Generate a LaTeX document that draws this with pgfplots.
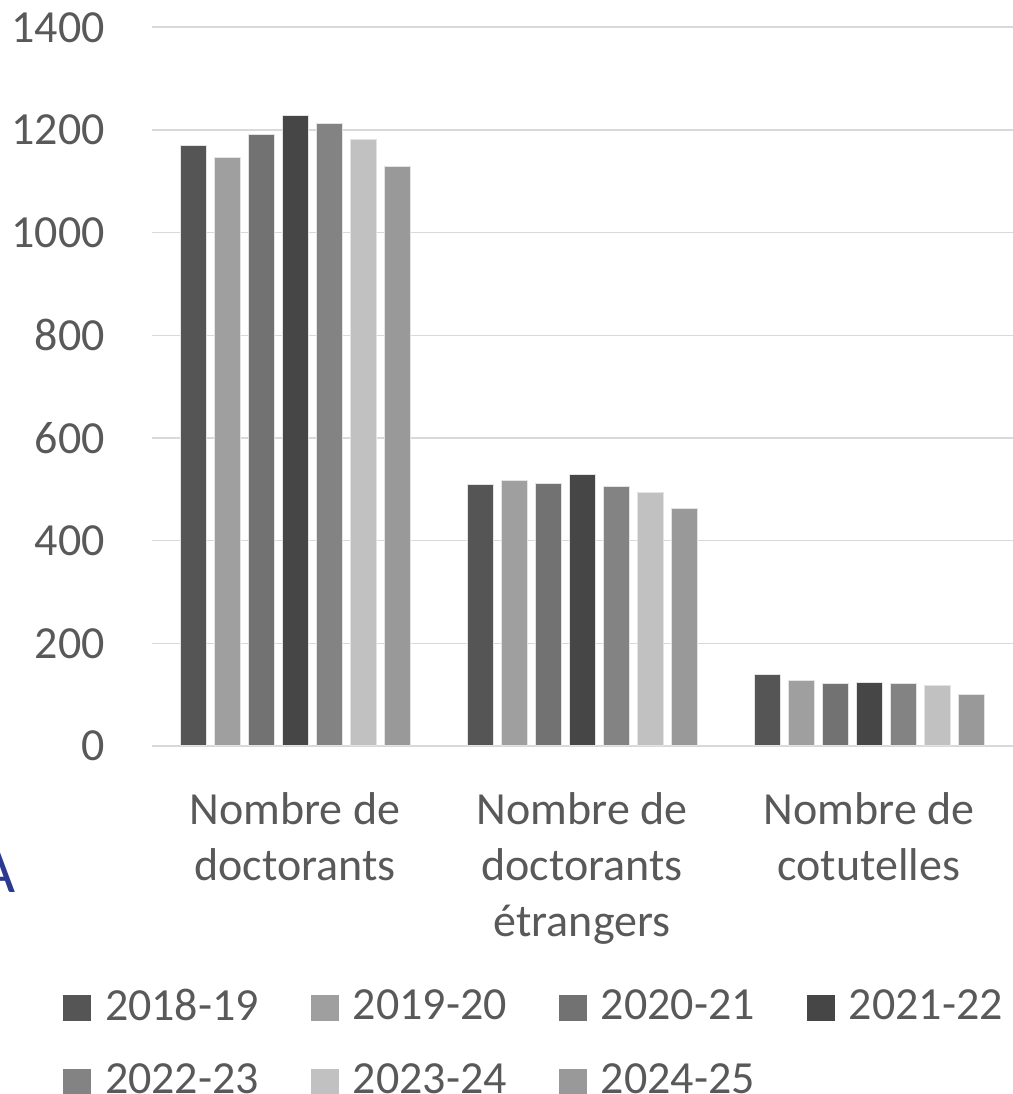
\documentclass[border=0pt]{standalone}
\usepackage{fontspec}
\setmainfont{Carlito}
\usepackage{pgfplots}
\pgfplotsset{compat=1.18}
\definecolor{txt}{HTML}{595959}
\definecolor{gridc}{HTML}{D9D9D9}
\definecolor{edge}{HTML}{E3E3E3}
\definecolor{cA}{HTML}{555555}
\definecolor{cB}{HTML}{9F9F9F}
\definecolor{cC}{HTML}{727272}
\definecolor{cD}{HTML}{464646}
\definecolor{cE}{HTML}{838383}
\definecolor{cF}{HTML}{C1C1C1}
\definecolor{cG}{HTML}{999999}
\definecolor{navy}{HTML}{2B3990}
\begin{document}
\begin{tikzpicture}[x=1pt,y=1pt]
\path[use as bounding box] (0,0) rectangle (1012,1094);
\node[anchor=south east, inner sep=0pt, text=navy, font=\fontsize{64}{64}\selectfont] at (16,201) {A};
\begin{axis}[
  at={(151.5pt,348pt)}, anchor=south west,
  width=861pt, height=718.7pt, scale only axis,
  xmin=-0.5, xmax=2.5, ymin=0, ymax=1400,
  ybar, bar width=26pt,
  xtick={0,1,2},
  xticklabels={{Nombre de\\doctorants},{Nombre de\\doctorants\\étrangers},{Nombre de\\cotutelles}},
  ytick={0,200,...,1400},
  ymajorgrids, major grid style={draw=gridc, line width=1.6pt},
  axis line style={draw=none},
  major tick length=0pt,
  /pgf/number format/assume math mode=true,
  /pgf/number format/1000 sep={},
  tick label style={font=\fontsize{46}{56}\selectfont, text=txt, inner sep=0pt},
  xticklabel style={align=center, anchor=north, yshift=-46pt},
  yticklabel style={anchor=east, xshift=-46.5pt},
  legend columns=4,
  legend style={at={(-0.1031,-0.3380)}, anchor=north west, draw=none, fill=none,
    inner sep=0pt, outer sep=0pt,
    font=\fontsize{46}{56}\selectfont, text=txt,
    nodes={inner sep=0pt},
    row sep=42pt,
    /tikz/every odd column/.append style={column sep=14.3pt},
    /tikz/every even column/.append style={column sep=51.7pt}},
  legend image code/.code={\path[#1,draw=none] (0pt,-16pt) rectangle (28pt,10.6pt);},
]
\addplot[fill=cA, draw=edge, line width=1pt, bar shift=-102pt] coordinates {(0,1170) (1,510) (2,140)};
\addplot[fill=cB, draw=edge, line width=1pt, bar shift=-68pt] coordinates {(0,1146) (1,518) (2,127)};
\addplot[fill=cC, draw=edge, line width=1pt, bar shift=-34pt] coordinates {(0,1192) (1,512) (2,122)};
\addplot[fill=cD, draw=edge, line width=1pt, bar shift=0pt] coordinates {(0,1229) (1,529) (2,124)};
\addplot[fill=cE, draw=edge, line width=1pt, bar shift=34pt] coordinates {(0,1212) (1,506) (2,121)};
\addplot[fill=cF, draw=edge, line width=1pt, bar shift=68pt] coordinates {(0,1181) (1,494) (2,117)};
\addplot[fill=cG, draw=edge, line width=1pt, bar shift=102pt] coordinates {(0,1129) (1,463) (2,101)};
\legend{2018-19,2019-20,2020-21,2021-22,2022-23,2023-24,2024-25}
\end{axis}
\end{tikzpicture}
\end{document}
